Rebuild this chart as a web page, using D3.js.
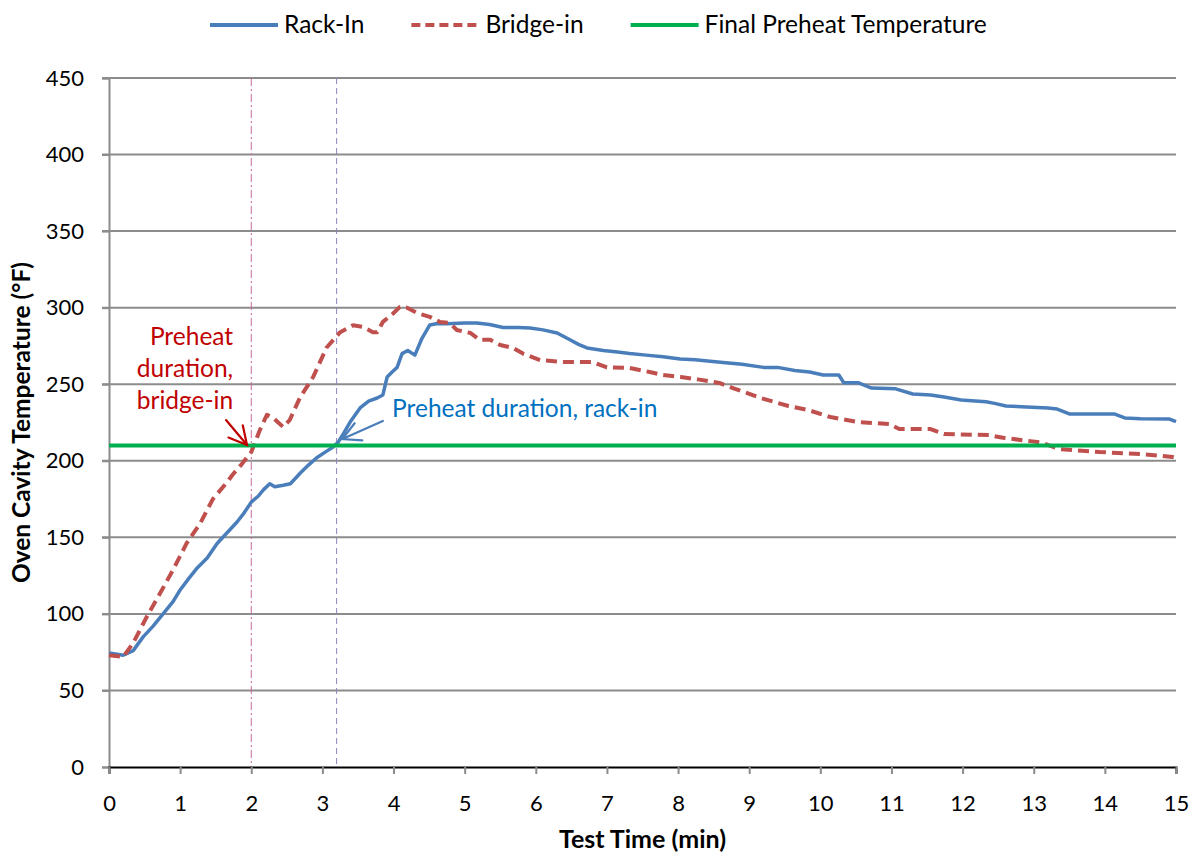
<!DOCTYPE html>
<html><head><meta charset="utf-8">
<script src="https://cdn.jsdelivr.net/npm/d3@7"></script>
<style>
html,body{margin:0;padding:0;background:#fff;}
svg{display:block;font-family:Lato,"Open Sans",sans-serif;}
</style></head><body>
<svg id="chart" width="1192" height="854"></svg>
<script>
// ---- data ----
const rackTime = [0,0.2,0.34,0.48,0.62,0.76,0.9,1.0,1.12,1.24,1.38,1.52,1.66,1.8,1.9,2.0,2.1,2.17,2.26,2.33,2.45,2.55,2.69,2.8,2.92,3.05,3.15,3.22,3.3,3.4,3.53,3.65,3.77,3.85,3.91,3.98,4.05,4.12,4.2,4.3,4.4,4.51,4.6,4.75,5.0,5.17,5.35,5.54,5.75,5.92,6.1,6.3,6.48,6.6,6.72,6.95,7.15,7.32,7.55,7.79,8.03,8.24,8.45,8.67,8.9,9.2,9.4,9.64,9.85,10.04,10.26,10.33,10.53,10.72,11.06,11.3,11.55,11.74,11.98,12.33,12.45,12.61,13.2,13.33,13.5,14.13,14.28,14.5,14.9,15];
const rackTemp = [74.5,73,76,85,92,100,108,115.6,123,130,136.5,146,153,160,166,173,177,181,185,183,184,185,192,197,202,206,209,212,218,226,234.5,239,241,243,254.7,258,261,270,272,269,280,288.7,289.5,289.5,290,290,289,287,287,286.7,285.5,283.5,279,276,273.7,272,271,270,269,268,266.5,266,265,264,263,261,261,259,258,256,256,251,251,247.5,247,243.6,243,241.7,239.7,238.5,237.5,235.8,234.5,233.8,230.6,230.6,228,227.5,227.3,225.5];
const bridgeTime = [0,0.2,0.34,0.53,0.72,0.9,1.09,1.28,1.46,1.66,1.74,1.87,2.0,2.12,2.22,2.31,2.45,2.54,2.69,2.87,3.06,3.25,3.43,3.57,3.71,3.77,3.85,3.99,4.09,4.19,4.33,4.51,4.65,4.79,4.89,5.08,5.21,5.36,5.5,5.68,5.82,6.06,6.38,6.8,7.0,7.32,7.6,7.79,8.04,8.3,8.58,8.77,9.16,9.55,9.84,10.14,10.53,10.97,11.11,11.55,11.74,12.37,12.57,13.1,13.35,13.93,14.51,14.95,15];
const bridgeTemp = [73,72,81,98,113.6,128.7,146,159,175,186,191,198,205.7,220,230,228,222,226.6,241.7,254.7,274,284,288.5,287.5,284,284,290.7,296,300.5,300,296.5,294,290.7,290,285.4,283.5,279,279,275.6,273.7,270,265.8,264.5,264.5,261,260.6,258,256,254.7,253,250.8,247.5,241,235.8,233,228.6,225.3,224,220.7,220.7,217.5,216.8,215,212,207.7,205.7,204.4,202.5,202];
const finalPreheat = 210;
const bridgeDuration = 2.0;
const rackDuration = 3.2;
const xTicks = [0,1,2,3,4,5,6,7,8,9,10,11,12,13,14,15];
const yTicks = [0,50,100,150,200,250,300,350,400,450];
const seriesNames = ["Rack-In","Bridge-in","Final Preheat Temperature"];
const xTitle = "Test Time (min)";
const yTitle = "Oven Cavity Temperature (°F)";
const annBridge = ["Preheat","duration,","bridge-in"];
const annRack = "Preheat duration, rack-in";

// ---- layout ----
const svg = d3.select("#chart");
const X0 = 109, X1 = 1176, Y0 = 767, Y1 = 78;
const x = d3.scaleLinear().domain([0,15]).range([X0,X1]);
const y = d3.scaleLinear().domain([0,450]).range([Y0,Y1]);
const FS = 22, FT = 24.5;
const cBlue = "#4a7ebb", cRed = "#c0504d", cGreen = "#00b050";

// gridlines
svg.append("g").selectAll("line").data(yTicks.filter(d=>d>0)).join("line")
  .attr("x1",X0-7).attr("x2",X1).attr("y1",d=>y(d)).attr("y2",d=>y(d))
  .attr("stroke","#8c8c8c").attr("stroke-width",2);

// y axis
const yAxis = svg.append("g").attr("transform",`translate(${X0},0)`)
  .call(d3.axisLeft(y).tickValues(yTicks).tickSize(7).tickPadding(18));
yAxis.select(".domain").attr("stroke","#8c8c8c").attr("stroke-width",2);
yAxis.selectAll(".tick line").attr("stroke","#8c8c8c").attr("stroke-width",2);
yAxis.selectAll("text").attr("font-size",FS).attr("font-family","Lato").attr("fill","#000");

// vertical marker lines
svg.append("line").attr("x1",x(bridgeDuration)).attr("x2",x(bridgeDuration)).attr("y1",Y1).attr("y2",Y0)
  .attr("stroke","#cc6699").attr("stroke-width",1).attr("stroke-dasharray","8,3,2,3");
svg.append("line").attr("x1",x(rackDuration)).attr("x2",x(rackDuration)).attr("y1",Y1).attr("y2",Y0)
  .attr("stroke","#8f84b8").attr("stroke-width",1).attr("stroke-dasharray","6,4");

// x axis
const xAxis = svg.append("g").attr("transform",`translate(0,${Y0})`)
  .call(d3.axisBottom(x).tickValues(xTicks).tickSize(7).tickPadding(21).tickFormat(d3.format("d")));
xAxis.select(".domain").attr("stroke","#000").attr("stroke-width",2);
xAxis.selectAll(".tick line").attr("stroke","#8c8c8c").attr("stroke-width",2);
xAxis.selectAll("text").attr("font-size",FS).attr("font-family","Lato").attr("fill","#000");

// series
const line = d3.line().x(d=>x(d[0])).y(d=>y(d[1])).curve(d3.curveLinear);
const rack = rackTime.map((t,i)=>[t,rackTemp[i]]);
const bridge = bridgeTime.map((t,i)=>[t,bridgeTemp[i]]);
svg.append("path").datum(rack).attr("d",line).attr("fill","none").attr("stroke",cBlue)
  .attr("stroke-width",3.5).attr("stroke-linejoin","round");
svg.append("path").datum(bridge).attr("d",line).attr("fill","none").attr("stroke",cRed)
  .attr("stroke-width",4).attr("stroke-dasharray","11,6").attr("stroke-linejoin","round");
svg.append("path").datum([[0,finalPreheat],[15,finalPreheat]]).attr("d",line).attr("fill","none")
  .attr("stroke",cGreen).attr("stroke-width",4);

// annotations
function arrow(t0,v0,t1,v1,color,w){
  const xa=x(t0),ya=y(v0),xb=x(t1),yb=y(v1);
  const ang=Math.atan2(ya-yb,xa-xb), L=20, h=28*Math.PI/180;
  const g=svg.append("g").attr("fill","none").attr("stroke",color).attr("stroke-width",w).attr("stroke-linecap","round");
  g.append("line").attr("x1",xa).attr("y1",ya).attr("x2",xb).attr("y2",yb);
  g.append("polyline").attr("points",[
    [xb+L*Math.cos(ang-h),yb+L*Math.sin(ang-h)],[xb,yb],[xb+L*Math.cos(ang+h),yb+L*Math.sin(ang+h)]].map(p=>p.join(",")).join(" "));
}
arrow(1.645,226.6,1.94,210.3,"#c00000",2.2);
arrow(3.85,226,3.28,214.2,"#4a7ebb",2.2);

const tb = svg.append("text").attr("x",x(1.745)).attr("y",y(275.6)).attr("text-anchor","end")
  .attr("font-size",FT).attr("fill","#c00000");
annBridge.forEach((s,i)=>tb.append("tspan").attr("x",x(1.745)).attr("dy",i?32:0).text(s));
svg.append("text").attr("x",x(3.98)).attr("y",y(228.6)).attr("font-size",FT).attr("fill","#0070c0").text(annRack);

// axis titles
svg.append("text").attr("x",(X0+X1)/2).attr("y",848).attr("text-anchor","middle")
  .attr("font-size",25).attr("font-weight","bold").attr("fill","#000").text(xTitle);
svg.append("text").attr("transform",`translate(30,${(Y0+Y1)/2}) rotate(-90)`).attr("text-anchor","middle")
  .attr("font-size",24.5).attr("font-weight","bold").attr("fill","#000").text(yTitle);

// legend
const leg = svg.append("g");
const styles = [
  {c:cBlue,dash:null,w:4},
  {c:cRed,dash:"9,5",w:4},
  {c:cGreen,dash:null,w:4}
];
let lx = 210;
seriesNames.forEach((n,i)=>{
  const s=styles[i];
  const ln=leg.append("line").attr("x1",lx).attr("x2",lx+68).attr("y1",25).attr("y2",25)
    .attr("stroke",s.c).attr("stroke-width",s.w);
  if(s.dash) ln.attr("stroke-dasharray",s.dash);
  const t=leg.append("text").attr("x",lx+74).attr("y",33).attr("font-size",FT).attr("fill","#000").text(n);
  lx = lx+74+t.node().getComputedTextLength()+47;
});
</script>
</body></html>
